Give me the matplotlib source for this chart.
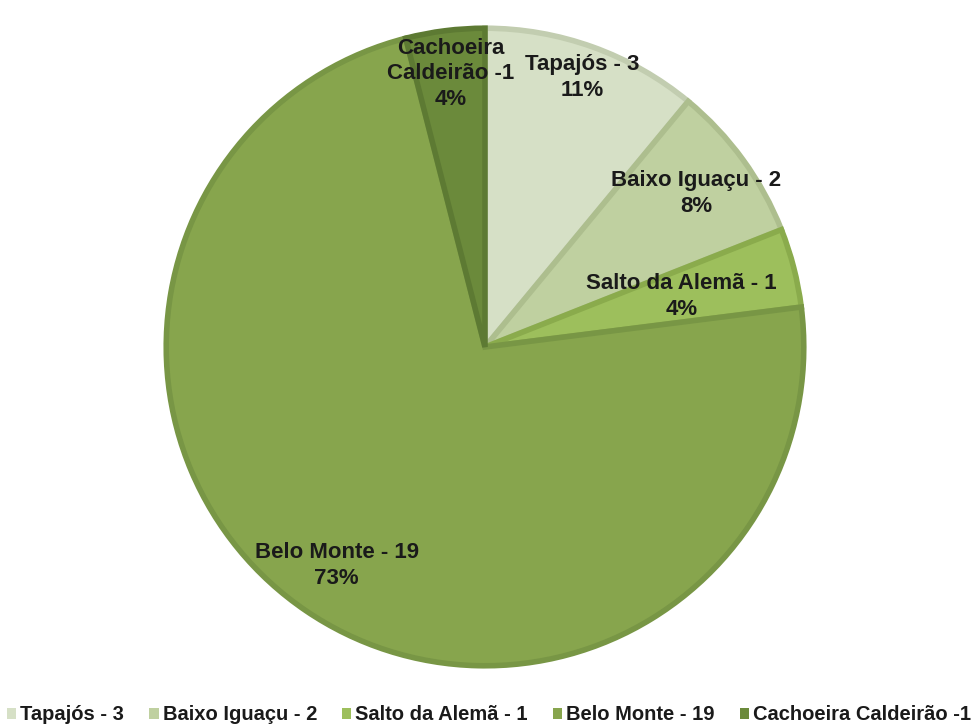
import matplotlib.pyplot as plt
import numpy as np

plt.rcParams['font.family'] = ['Liberation Sans', 'DejaVu Sans']

names = ['Tapajós - 3', 'Baixo Iguaçu - 2', 'Salto da Alemã - 1', 'Belo Monte - 19', 'Cachoeira Caldeirão -1']
slice_labels = ['Tapajós - 3', 'Baixo Iguaçu - 2', 'Salto da Alemã - 1', 'Belo Monte - 19', 'Cachoeira\nCaldeirão -1']
counts = [3, 2, 1, 19, 1]
pct = [11, 8, 4, 73, 4]
fills = ['#d6e0c6', '#bfd0a0', '#9dbf5c', '#87a54d', '#6b8a3b']
edges = ['#c2cdb0', '#adbe8e', '#8aab4c', '#789645', '#5d7a33']
label_dist = [0.89, 0.81, 0.63, 0.82, 0.855]

fig = plt.figure(figsize=(9.78, 7.28), dpi=100)
ax = fig.add_axes([163 / 978, 59 / 728, 644 / 978, 644 / 728])

wedges, _ = ax.pie(pct, colors=fills, startangle=90, counterclock=False,
                   radius=0.99,
                   wedgeprops=dict(linewidth=4, joinstyle='miter'))
for w, ec in zip(wedges, edges):
    w.set_edgecolor(ec)

for w, lab, p, d in zip(wedges, slice_labels, pct, label_dist):
    ang = np.deg2rad((w.theta1 + w.theta2) / 2)
    x, y = d * np.cos(ang), d * np.sin(ang)
    ax.text(x, y, '%s\n%d%%' % (lab, p), ha='center', va='center',
            fontsize=16, fontweight='bold', color='#1a1a1a', linespacing=1.3)

ax.set_xlim(-1, 1)
ax.set_ylim(-1, 1)
ax.set_aspect('equal')
ax.axis('off')

leg = fig.legend(wedges, names, loc='center', bbox_to_anchor=(0.5, 1 - 715 / 728),
                 ncol=5, frameon=False, handlelength=0.45, handleheight=0.45,
                 handletextpad=0.2, columnspacing=1.25, borderpad=0,
                 prop=dict(weight='bold', size=14.5))
for h in leg.legend_handles:
    h.set_linewidth(0)
for t in leg.get_texts():
    t.set_color('#1a1a1a')

fig.savefig('out.png', dpi=100)
